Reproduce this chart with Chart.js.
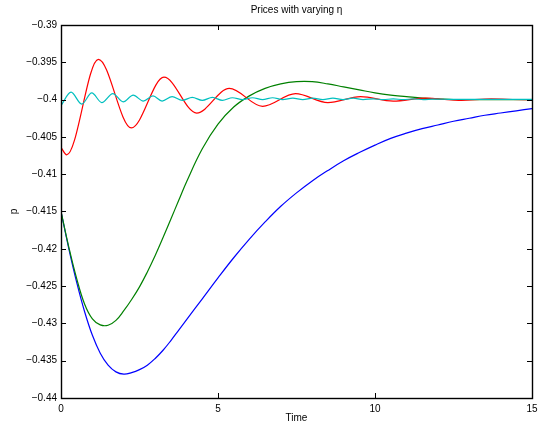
<!DOCTYPE html>
<html>
<head>
<meta charset="utf-8">
<script src="https://cdn.jsdelivr.net/npm/chart.js@4.4.1/dist/chart.umd.min.js"></script>
<style>
  html, body { margin: 0; padding: 0; background: #fff; }
  #wrap { width: 538px; height: 430px; }
</style>
</head>
<body>
<div id="wrap"><canvas id="priceChart" width="538" height="430"></canvas></div>
<script>
// values
const titleText = 'Prices with varying η';
const xTicks = [0, 5, 10, 15];
const yTicks = [-0.44, -0.435, -0.43, -0.425, -0.42, -0.415, -0.41, -0.405, -0.4, -0.395, -0.39];

// blue + green share a time grid
const t = [0, 0.25, 0.5, 0.75, 1, 1.25, 1.5, 1.75, 2, 2.25, 2.5, 2.75, 3, 3.25, 3.5, 3.75, 4,
  4.5, 5, 5.5, 6, 6.5, 7, 7.5, 8, 8.5, 9, 9.5, 10, 10.5, 11, 11.5, 12, 12.5, 13, 13.5, 14, 14.5, 15];
const blueP = [-0.4150, -0.4200, -0.4245, -0.4284, -0.4316, -0.4340, -0.4356, -0.4365, -0.4368, -0.4366,
  -0.4362, -0.4356, -0.4347, -0.4336, -0.4323, -0.4309, -0.4295,
  -0.4267, -0.4239, -0.4212, -0.4187, -0.4164, -0.4143, -0.4125, -0.4109, -0.4095, -0.4082, -0.4071,
  -0.4061, -0.4052, -0.4045, -0.4039, -0.4034, -0.4029, -0.4025, -0.4021, -0.4018, -0.4015, -0.4012];
const greenP = [-0.4150, -0.4198, -0.4240, -0.4274, -0.4294, -0.4302, -0.43025, -0.4296, -0.4283, -0.4268,
  -0.4251, -0.4231, -0.4209, -0.4185, -0.4160, -0.4135, -0.4110,
  -0.4066, -0.4033, -0.4010, -0.3995, -0.3985, -0.3979, -0.3976, -0.3976, -0.3979, -0.3983, -0.3987,
  -0.3991, -0.3994, -0.3996, -0.3998, -0.3999, -0.4000, -0.4000, -0.4000, -0.4000, -0.4000, -0.4000];

// red: turning points of the damped wave
const redT = [0, 0.18, 1.19, 2.24, 3.28, 4.32, 5.36, 6.42, 7.47, 8.5, 9.54, 10.58, 11.62, 12.66, 13.7, 14.74, 15];
const redP = [-0.4064, -0.4074, -0.3946, -0.4038, -0.3970, -0.4018, -0.3985, -0.4009, -0.3992, -0.4004,
  -0.3996, -0.4002, -0.3998, -0.4001, -0.3999, -0.4000, -0.4000];

// cyan: fast small wave
const cyanT = [0, 0.32, 0.66, 0.98, 1.3, 1.65, 1.98, 2.3, 2.62, 2.93, 3.22, 3.54, 3.86, 4.18, 4.5, 4.82,
  5.14, 5.46, 5.78, 6.1, 6.42, 6.74, 7.06, 7.38, 7.7, 8.02, 8.34, 8.66, 8.98, 9.3, 9.62, 9.94,
  10.26, 10.58, 10.9, 11.22, 11.54, 11.86, 12.5, 13.5, 15];
const cyanP = [-0.4008, -0.3990, -0.4006, -0.3991, -0.4004, -0.3992, -0.4003, -0.3994, -0.4002, -0.3995,
  -0.4002, -0.3996, -0.4001, -0.3997, -0.4001, -0.3997, -0.4001, -0.39975, -0.4000, -0.39975, -0.4000,
  -0.39975, -0.4000, -0.3998, -0.4000, -0.3998, -0.4000, -0.3998, -0.39999, -0.3998, -0.39999, -0.3999,
  -0.4000, -0.3999, -0.4000, -0.3999, -0.4000, -0.39993, -0.39998, -0.39998, -0.39998];

const toPts = (xs, ys) => xs.map((x, i) => ({ x: x, y: ys[i] }));
const FONT = '"Liberation Sans", Arial, Helvetica, sans-serif';

function fmtY(v) {
  return String(parseFloat(v.toFixed(4))).replace('-', '\u2212');
}

// MATLAB-style box, inward ticks and title
const matlabFrame = {
  id: 'matlabFrame',
  afterDraw(chart) {
    const { ctx, chartArea: a, scales: { x, y } } = chart;
    ctx.save();
    ctx.strokeStyle = '#000';
    ctx.lineWidth = 1;
    ctx.beginPath();
    xTicks.forEach(v => {
      const px = Math.round(x.getPixelForValue(v)) + 0.5;
      ctx.moveTo(px, a.bottom); ctx.lineTo(px, a.bottom - 5);
      ctx.moveTo(px, a.top); ctx.lineTo(px, a.top + 5);
    });
    yTicks.forEach(v => {
      const py = Math.round(y.getPixelForValue(v)) + 0.5;
      ctx.moveTo(a.left, py); ctx.lineTo(a.left + 5, py);
      ctx.moveTo(a.right, py); ctx.lineTo(a.right - 5, py);
    });
    ctx.stroke();
    ctx.lineWidth = 1.4;
    ctx.strokeRect(Math.round(a.left) + 0.5, Math.round(a.top) + 0.5,
      Math.round(a.right - a.left), Math.round(a.bottom - a.top));
    ctx.fillStyle = '#000';
    ctx.font = '10px ' + FONT;
    ctx.textAlign = 'center';
    ctx.textBaseline = 'middle';
    ctx.fillText(titleText, (a.left + a.right) / 2, 10);
    ctx.restore();
  }
};

// smooth curves get a tension spline, waves keep flat turning points
const line = (data, color, order, wave) => ({
  data: data,
  borderColor: color,
  borderWidth: 1.2,
  pointRadius: 0,
  fill: false,
  tension: 0.4,
  cubicInterpolationMode: wave ? 'monotone' : 'default',
  order: order
});

new Chart(document.getElementById('priceChart'), {
  type: 'line',
  data: {
    datasets: [
      line(toPts(t, blueP), '#0000ff', 4, false),
      line(toPts(t, greenP), '#008000', 3, false),
      line(toPts(redT, redP), '#ff0000', 2, true),
      line(toPts(cyanT, cyanP), '#00bfbf', 1, true)
    ]
  },
  options: {
    responsive: false,
    animation: false,
    layout: { padding: { top: 25, right: 6, left: 0, bottom: 0 } },
    plugins: {
      legend: { display: false },
      tooltip: { enabled: false }
    },
    scales: {
      x: {
        type: 'linear',
        min: 0, max: 15,
        grid: { display: false, drawTicks: false },
        border: { display: false },
        afterBuildTicks: s => { s.ticks = xTicks.map(v => ({ value: v })); },
        afterFit: s => { s.height = 32; s.paddingLeft = 0; s.paddingRight = 0; },
        ticks: { color: '#000', padding: 5, maxRotation: 0, font: { size: 10, family: FONT } },
        title: { display: true, text: 'Time', color: '#000', padding: { bottom: 6, top: 0 }, font: { size: 10, family: FONT } }
      },
      y: {
        min: -0.44, max: -0.39,
        grid: { display: false, drawTicks: false },
        border: { display: false },
        afterBuildTicks: s => { s.ticks = yTicks.map(v => ({ value: v })); },
        afterFit: s => { s.width = 61; s.paddingTop = 0; s.paddingBottom = 0; },
        ticks: { color: '#000', padding: 4, font: { size: 10, family: FONT }, callback: v => fmtY(v) },
        title: { display: true, text: 'p', color: '#000', padding: { top: 8, bottom: 0 }, font: { size: 10, family: FONT } }
      }
    }
  },
  plugins: [matlabFrame]
});
</script>
</body>
</html>
